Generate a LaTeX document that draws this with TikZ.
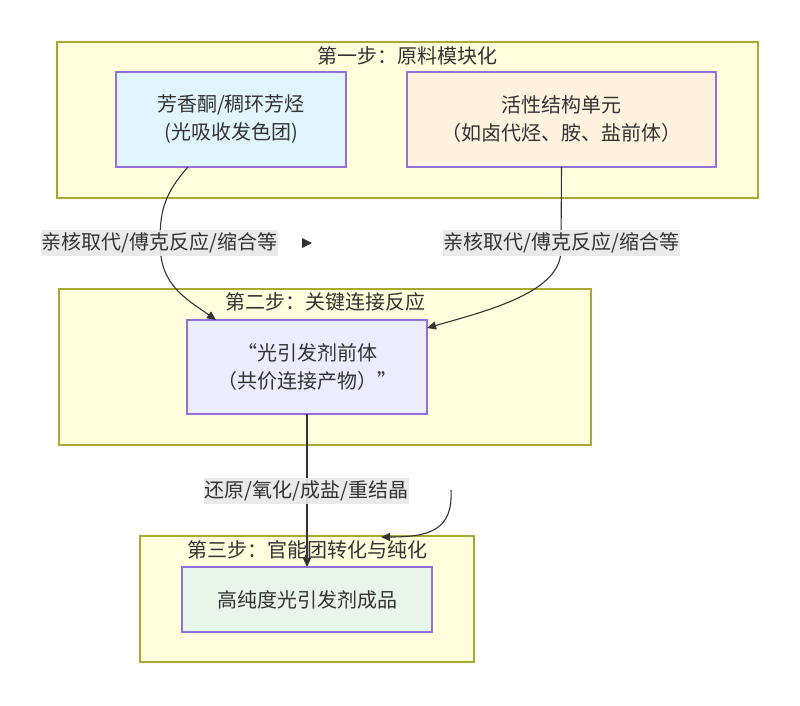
\documentclass[tikz,border=0pt]{standalone}
\usepackage{fontspec}
\setmainfont{Noto Sans CJK SC}
\usetikzlibrary{arrows.meta}
\definecolor{clfill}{HTML}{FFFFDE}
\definecolor{clline}{HTML}{AAAA33}
\definecolor{ndline}{HTML}{9370DB}
\definecolor{txt}{HTML}{333333}
\definecolor{lblbg}{HTML}{E8E8E8}
\definecolor{fa}{HTML}{E1F5FE}
\definecolor{fb}{HTML}{FFF3E0}
\definecolor{fc}{HTML}{ECECFF}
\definecolor{fd}{HTML}{E8F5E9}
\tikzset{
  cluster/.style={draw=clline, fill=clfill, line width=1.2pt, anchor=north west, inner sep=0pt, outer sep=0pt},
  ttl/.style={text=txt, inner sep=0pt},
  box/.style={draw=ndline, line width=1.2pt, align=center, text=txt, inner sep=0pt, outer sep=0pt},
  lbl/.style={fill=lblbg, fill opacity=0.9, text opacity=1, text=txt, inner xsep=1pt, inner ysep=3pt},
  edge/.style={draw=txt, line width=1.1pt, -{Triangle[length=9pt,width=8pt]}},
}
\begin{document}
\begin{tikzpicture}[x=1pt,y=-1pt,font=\fontsize{20}{28}\selectfont]
\useasboundingbox (0,0) rectangle (800,705);
\fill[white] (0,0) rectangle (800,705);
% clusters
\node[cluster, minimum width=701pt, minimum height=156pt] (S1) at (57,42) {};
\node[ttl] (T1) at (407,56) {第一步：原料模块化};
\node[cluster, minimum width=532pt, minimum height=156pt] (S2) at (59,289) {};
\node[ttl] (T2) at (325,302) {第二步：关键连接反应};
\node[cluster, minimum width=334pt, minimum height=126pt] (S3) at (140,536) {};
\node[ttl] (T3) at (307,550) {第三步：官能团转化与纯化};
% nodes
\node[box, fill=fa, minimum width=230pt, minimum height=95pt] (A) at (231,119.5) {芳香酮/稠环芳烃\\(光吸收发色团)};
\node[box, fill=fb, minimum width=309pt, minimum height=95pt] (B) at (561.5,119.5) {活性结构单元\\（如卤代烃、胺、盐前体）};
\node[box, fill=fc, minimum width=240pt, minimum height=94pt] (C) at (307,367) {“光引发剂前体\\（共价连接产物）”};
\node[box, fill=fd, minimum width=250pt, minimum height=65pt] (D) at (307,599.5) {高纯度光引发剂成品};
% edges
\coordinate (a1) at ([xshift=-43pt]A.south);
\coordinate (c1) at ([xshift=-91pt]C.north);
\draw[edge] (a1) .. controls (162,196) and (160,215) .. (160,243)
  .. controls (160,285) and (185,298) .. (c1);
\coordinate (b1) at (B.south);
\coordinate (c2) at ([yshift=39pt]C.east);
\draw[edge] (b1) -- (561,250) .. controls (561,292) and (490,310) .. (c2);
\draw[edge] (C.south) -- (D.north);
\coordinate (s1) at (451,490);
\coordinate (s2) at (381,537);
\draw[edge] (s1) .. controls (453,530) and (430,537) .. (s2);
% labels
\node[lbl] (L1) at (159.5,243) {亲核取代/傅克反应/缩合等};
\node[lbl] (L2) at (561.5,243) {亲核取代/傅克反应/缩合等};
\node[lbl] (L3) at (306.5,491) {还原/氧化/成盐/重结晶};
\fill[txt] (302,238) -- (312,243) -- (302,248) -- cycle;
\end{tikzpicture}
\end{document}
